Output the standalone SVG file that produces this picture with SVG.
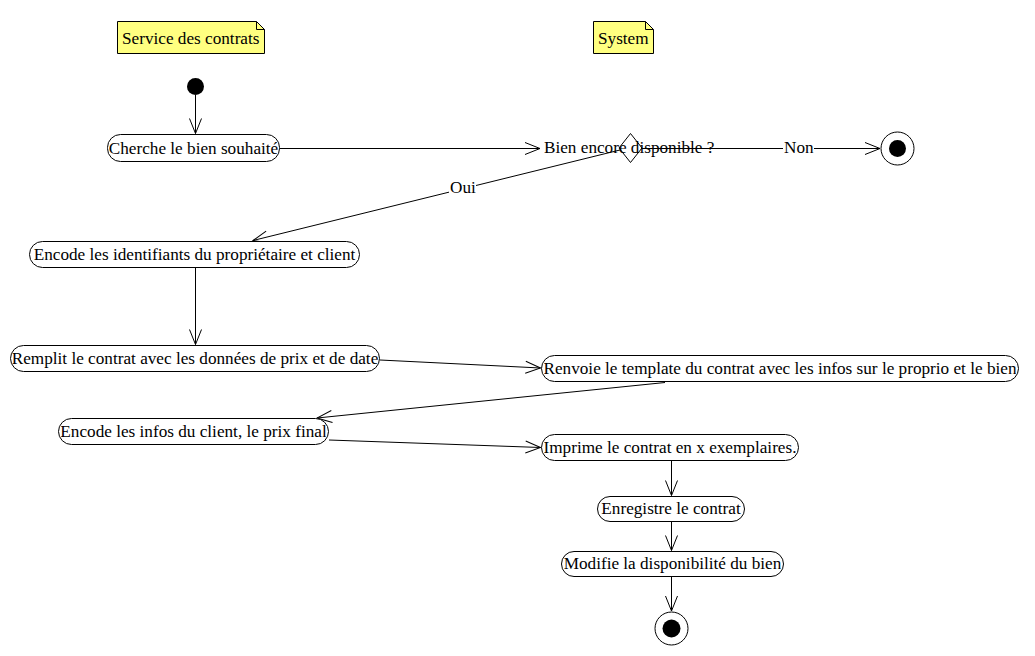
<svg xmlns="http://www.w3.org/2000/svg" width="1035" height="656" viewBox="0 0 1035 656">
  <style>
    text { font-family: "Liberation Serif", "Times New Roman", serif; font-size: 17.2px; fill: #000; }
    .act { fill: #fff; stroke: #000; stroke-width: 1; }
    .note { fill: #ffff80; stroke: #000; stroke-width: 1; }
    .edge { fill: none; stroke: #000; stroke-width: 1; }
    .lbl { fill: #fff; stroke: none; }
  </style>
  <defs>
    <marker id="open" markerUnits="userSpaceOnUse" markerWidth="20" markerHeight="14" refX="15" refY="6" orient="auto" overflow="visible">
      <path d="M0,0 L15,6 L0,12" fill="none" stroke="#000" stroke-width="1"/>
    </marker>
  </defs>

  <rect width="1035" height="656" fill="#fff"/>

  <!-- swimlane notes -->
  <g id="note-service">
    <path class="note" d="M117.5,21.5 H256.5 L264.5,29.5 V53.5 H117.5 Z"/>
    <path class="edge" d="M256.5,21.5 V29.5 H264.5"/>
    <text x="122" y="44">Service des contrats</text>
  </g>
  <g id="note-system">
    <path class="note" d="M593.5,21.5 H645.5 L653.5,29.5 V53.5 H593.5 Z"/>
    <path class="edge" d="M645.5,21.5 V29.5 H653.5"/>
    <text x="598" y="44">System</text>
  </g>

  <!-- connectors -->
  <g id="connectors">
    <line class="edge" x1="195.5" y1="95" x2="195.5" y2="133.5" marker-end="url(#open)"/>
    <line class="edge" x1="279" y1="148.5" x2="540" y2="148.5" marker-end="url(#open)"/>
    <line class="edge" x1="642" y1="148.5" x2="880" y2="148.5" marker-end="url(#open)"/>
    <rect class="lbl" x="783" y="139" width="31" height="18"/>
    <text x="784" y="153">Non</text>
    <line class="edge" x1="624" y1="149" x2="253" y2="240.5" marker-end="url(#open)"/>
    <rect class="lbl" x="449" y="179" width="27" height="18"/>
    <text x="450" y="193">Oui</text>
    <line class="edge" x1="195.5" y1="268" x2="195.5" y2="344.5" marker-end="url(#open)"/>
    <line class="edge" x1="380" y1="360" x2="540.5" y2="368" marker-end="url(#open)"/>
    <line class="edge" x1="665" y1="382.5" x2="317" y2="418" marker-end="url(#open)"/>
    <line class="edge" x1="329" y1="440" x2="540.5" y2="447.5" marker-end="url(#open)"/>
    <line class="edge" x1="671.5" y1="461" x2="671.5" y2="495.5" marker-end="url(#open)"/>
    <line class="edge" x1="671.5" y1="522" x2="671.5" y2="550.5" marker-end="url(#open)"/>
    <line class="edge" x1="671.5" y1="577" x2="671.5" y2="611" marker-end="url(#open)"/>
  </g>

  <!-- start -->
  <g id="start">
    <circle cx="195.5" cy="86.5" r="8.5" fill="#000"/>
  </g>

  <g id="cherche">
    <rect class="act" x="107.5" y="134.5" width="172" height="27" rx="13" ry="13"/>
    <text x="193.5" y="154" text-anchor="middle">Cherche le bien souhaité</text>
  </g>

  <g id="decision">
    <path class="act" d="M630.5,133.5 L642,148 L630.5,162.5 L619,148 Z"/>
    <text x="544" y="153">Bien encore disponible ?</text>
  </g>

  <g id="end-non">
    <circle class="act" cx="897.5" cy="148.5" r="16.5"/>
    <circle cx="897.5" cy="148.5" r="8.5" fill="#000"/>
  </g>

  <g id="encode-ident">
    <rect class="act" x="29.5" y="241.5" width="330" height="26" rx="13" ry="13"/>
    <text x="194.5" y="260" text-anchor="middle">Encode les identifiants du propriétaire et client</text>
  </g>

  <g id="remplit">
    <rect class="act" x="10.5" y="345.5" width="369" height="26" rx="13" ry="13"/>
    <text x="195" y="364" text-anchor="middle">Remplit le contrat avec les données de prix et de date</text>
  </g>

  <g id="renvoie">
    <rect class="act" x="541.5" y="355.5" width="477" height="26" rx="13" ry="13"/>
    <text x="780" y="374" text-anchor="middle">Renvoie le template du contrat avec les infos sur le proprio et le bien</text>
  </g>

  <g id="encode-infos">
    <rect class="act" x="58.5" y="418.5" width="270" height="26" rx="13" ry="13"/>
    <text x="193.5" y="437" text-anchor="middle">Encode les infos du client, le prix final</text>
  </g>

  <g id="imprime">
    <rect class="act" x="541.5" y="434.5" width="257" height="26" rx="13" ry="13"/>
    <text x="670" y="453" text-anchor="middle">Imprime le contrat en x exemplaires.</text>
  </g>

  <g id="enregistre">
    <rect class="act" x="597.5" y="496.5" width="147" height="25" rx="12.5" ry="12.5"/>
    <text x="671" y="514" text-anchor="middle">Enregistre le contrat</text>
  </g>

  <g id="modifie">
    <rect class="act" x="561.5" y="551.5" width="222" height="25" rx="12.5" ry="12.5"/>
    <text x="672.5" y="569" text-anchor="middle">Modifie la disponibilité du bien</text>
  </g>

  <g id="end">
    <circle class="act" cx="671.5" cy="628.5" r="16.5"/>
    <circle cx="671.5" cy="628.5" r="9" fill="#000"/>
  </g>
</svg>
